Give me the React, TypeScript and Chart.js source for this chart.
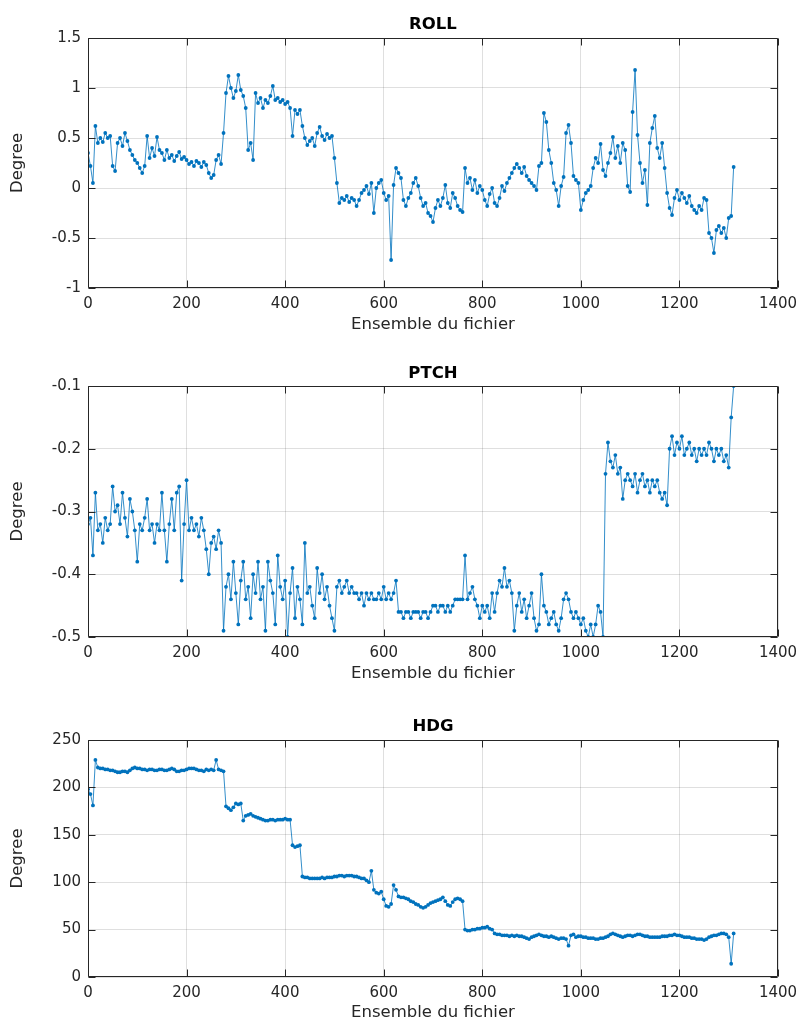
import React, { useEffect, useRef } from "react";
import { Chart, registerables } from "chart.js";

Chart.register(...registerables);

// Sample spacing along "Ensemble du fichier" (one value every 5 ensembles)
const STEP = 5;

// ROLL (degrees), samples at 0,5,10,...,1310
const ROLL = [
  0.35, 0.22, 0.05, 0.62, 0.45, 0.5, 0.46, 0.55, 0.5, 0.52,
  0.22, 0.17, 0.45, 0.5, 0.42, 0.55, 0.47, 0.38, 0.33, 0.28,
  0.25, 0.2, 0.15, 0.22, 0.52, 0.3, 0.4, 0.32, 0.51, 0.38,
  0.35, 0.28, 0.38, 0.3, 0.33, 0.27, 0.32, 0.36, 0.29, 0.31,
  0.28, 0.24, 0.26, 0.22, 0.27, 0.25, 0.21, 0.26, 0.23, 0.15,
  0.1, 0.13, 0.28, 0.33, 0.24, 0.55, 0.95, 1.12, 1.0, 0.9,
  0.97, 1.13, 0.98, 0.92, 0.8, 0.38, 0.45, 0.28, 0.95, 0.85,
  0.9, 0.8, 0.88, 0.85, 0.92, 1.02, 0.88, 0.9, 0.86, 0.88,
  0.84, 0.86, 0.8, 0.52, 0.78, 0.74, 0.78, 0.62, 0.5, 0.43,
  0.47, 0.5, 0.42, 0.55, 0.61, 0.52, 0.48, 0.54, 0.5, 0.52,
  0.3, 0.05, -0.15, -0.1, -0.12, -0.08, -0.14, -0.1, -0.12, -0.18,
  -0.12, -0.05, -0.02, 0.02, -0.06, 0.05, -0.25, 0.0, 0.05, 0.08,
  -0.05, -0.12, -0.08, -0.72, 0.03, 0.2, 0.15, 0.1, -0.12, -0.18,
  -0.1, -0.05, 0.05, 0.1, 0.02, -0.1, -0.18, -0.15, -0.25, -0.28,
  -0.34, -0.2, -0.12, -0.18, -0.1, 0.03, -0.15, -0.2, -0.05, -0.1,
  -0.18, -0.22, -0.24, 0.2, 0.05, 0.1, -0.02, 0.08, -0.05, 0.02,
  -0.02, -0.12, -0.18, -0.06, 0.0, -0.15, -0.18, -0.1, 0.02, -0.03,
  0.05, 0.1, 0.15, 0.2, 0.24, 0.2, 0.15, 0.21, 0.12, 0.08,
  0.05, 0.02, -0.02, 0.22, 0.25, 0.75, 0.66, 0.38, 0.25, 0.05,
  -0.02, -0.18, 0.02, 0.11, 0.55, 0.63, 0.45, 0.12, 0.08, 0.05,
  -0.22, -0.12, -0.05, -0.02, 0.02, 0.2, 0.3, 0.25, 0.44, 0.18,
  0.12, 0.25, 0.35, 0.51, 0.3, 0.42, 0.25, 0.45, 0.38, 0.02,
  -0.04, 0.76, 1.18, 0.53, 0.25, 0.05, 0.18, -0.17, 0.45, 0.6,
  0.72, 0.4, 0.3, 0.45, 0.2, -0.05, -0.2, -0.27, -0.1, -0.02,
  -0.12, -0.05, -0.1, -0.15, -0.08, -0.18, -0.22, -0.25, -0.18, -0.22,
  -0.1, -0.12, -0.45, -0.5, -0.65, -0.42, -0.38, -0.45, -0.4, -0.5,
  -0.3, -0.28, 0.21,
];

// PTCH (degrees)
const PTCH = [
  -0.32, -0.31, -0.37, -0.27, -0.33, -0.32, -0.35, -0.31, -0.33, -0.32,
  -0.26, -0.3, -0.29, -0.32, -0.27, -0.31, -0.34, -0.28, -0.3, -0.33,
  -0.38, -0.32, -0.33, -0.31, -0.28, -0.33, -0.32, -0.35, -0.32, -0.33,
  -0.27, -0.33, -0.38, -0.32, -0.28, -0.33, -0.27, -0.26, -0.41, -0.32,
  -0.25, -0.33, -0.31, -0.33, -0.32, -0.34, -0.31, -0.33, -0.36, -0.4,
  -0.35, -0.34, -0.36, -0.33, -0.35, -0.49, -0.42, -0.4, -0.44, -0.38,
  -0.43, -0.48, -0.41, -0.38, -0.44, -0.42, -0.47, -0.4, -0.43, -0.38,
  -0.44, -0.42, -0.49, -0.38, -0.41, -0.43, -0.48, -0.37, -0.42, -0.44,
  -0.41, -0.5, -0.43, -0.39, -0.47, -0.42, -0.44, -0.48, -0.35, -0.43,
  -0.42, -0.45, -0.47, -0.39, -0.43, -0.4, -0.44, -0.42, -0.45, -0.47,
  -0.49, -0.42, -0.41, -0.43, -0.42, -0.41, -0.43, -0.42, -0.43, -0.43,
  -0.44, -0.43, -0.45, -0.43, -0.44, -0.43, -0.44, -0.44, -0.43, -0.44,
  -0.42, -0.44, -0.43, -0.44, -0.43, -0.41, -0.46, -0.46, -0.47, -0.46,
  -0.46, -0.47, -0.46, -0.46, -0.46, -0.47, -0.46, -0.46, -0.47, -0.46,
  -0.45, -0.45, -0.46, -0.45, -0.45, -0.46, -0.45, -0.46, -0.45, -0.44,
  -0.44, -0.44, -0.44, -0.37, -0.44, -0.43, -0.42, -0.44, -0.45, -0.47,
  -0.45, -0.46, -0.45, -0.47, -0.43, -0.46, -0.43, -0.41, -0.42, -0.39,
  -0.42, -0.41, -0.43, -0.49, -0.45, -0.43, -0.46, -0.44, -0.47, -0.45,
  -0.43, -0.47, -0.49, -0.48, -0.4, -0.45, -0.46, -0.48, -0.47, -0.46,
  -0.48, -0.49, -0.47, -0.44, -0.43, -0.44, -0.46, -0.47, -0.46, -0.47,
  -0.48, -0.47, -0.49, -0.5, -0.48, -0.5, -0.48, -0.45, -0.46, -0.5,
  -0.24, -0.19, -0.22, -0.23, -0.21, -0.24, -0.23, -0.28, -0.25, -0.24,
  -0.25, -0.26, -0.24, -0.27, -0.25, -0.24, -0.26, -0.25, -0.27, -0.25,
  -0.26, -0.25, -0.27, -0.28, -0.27, -0.29, -0.2, -0.18, -0.21, -0.19,
  -0.2, -0.18, -0.21, -0.2, -0.19, -0.21, -0.2, -0.22, -0.2, -0.21,
  -0.2, -0.21, -0.19, -0.2, -0.22, -0.2, -0.21, -0.2, -0.22, -0.21,
  -0.23, -0.15, -0.1,
];

// HDG (degrees)
const HDG = [
  198, 193, 181, 229, 221, 220, 220, 219, 219, 218,
  218, 217, 216, 216, 217, 217, 216, 218, 220, 221,
  220, 220, 219, 219, 218, 219, 219, 218, 218, 219,
  219, 218, 218, 219, 220, 219, 217, 217, 218, 218,
  219, 220, 220, 220, 219, 218, 218, 217, 219, 218,
  219, 218, 229, 219, 218, 217, 180, 178, 176, 179,
  183, 182, 183, 165, 170, 171, 172, 170, 169, 168,
  167, 166, 165, 165, 166, 166, 165, 166, 166, 166,
  167, 166, 166, 139, 137, 138, 139, 106, 105, 105,
  104, 104, 104, 104, 104, 105, 104, 105, 105, 105,
  106, 106, 107, 107, 106, 107, 107, 107, 106, 106,
  105, 104, 104, 102, 100, 112, 92, 89, 88, 90,
  82, 75, 74, 77, 97, 92, 85, 84, 84, 83,
  82, 80, 79, 77, 76, 74, 73, 74, 76, 78,
  79, 80, 81, 82, 84, 80, 76, 75, 79, 82,
  83, 82, 80, 50, 49, 49, 50, 50, 51, 51,
  52, 52, 53, 51, 50, 46, 45, 45, 44, 44,
  44, 43, 44, 43, 44, 43, 43, 42, 41, 40,
  42, 43, 44, 45, 44, 43, 43, 42, 43, 42,
  41, 40, 41, 41, 40, 33, 44, 45, 42, 43,
  43, 42, 42, 41, 41, 41, 40, 40, 41, 41,
  42, 43, 45, 46, 45, 44, 43, 42, 43, 44,
  44, 43, 44, 45, 45, 44, 43, 43, 42, 42,
  42, 42, 42, 43, 43, 43, 44, 44, 45, 44,
  44, 43, 42, 42, 42, 41, 41, 40, 40, 40,
  39, 40, 42, 43, 44, 44, 45, 46, 46, 45,
  42, 14, 46,
];

const X_TICKS = [0, 200, 400, 600, 800, 1000, 1200, 1400];
const ROLL_TICKS = [-1, -0.5, 0, 0.5, 1, 1.5];
const PTCH_TICKS = [-0.5, -0.4, -0.3, -0.2, -0.1];
const HDG_TICKS = [0, 50, 100, 150, 200, 250];

const X_LABEL = "Ensemble du fichier";
const Y_LABEL = "Degree";

const FONT = "DejaVu Sans";
const INK = "#262626";
const BLUE = "#0072BD";

type PanelSpec = {
  title: string;
  values: number[];
  yTicks: number[];
  top: number;
  height: number;
  titlePadTop: number;
  titlePadBottom: number;
  xScaleHeight: number;
  xTitlePadBottom: number;
};

const PANELS: PanelSpec[] = [
  { title: "ROLL", values: ROLL, yTicks: ROLL_TICKS, top: 0, height: 345, titlePadTop: 15, titlePadBottom: 3.2, xScaleHeight: 57, xTitlePadBottom: 10.1 },
  { title: "PTCH", values: PTCH, yTicks: PTCH_TICKS, top: 345, height: 350, titlePadTop: 19.1, titlePadBottom: 2.1, xScaleHeight: 58, xTitlePadBottom: 11.1 },
  { title: "HDG", values: HDG, yTicks: HDG_TICKS, top: 695, height: 329, titlePadTop: 22.1, titlePadBottom: 3.1, xScaleHeight: 47, xTitlePadBottom: 1.1 },
];

const fmt = (v: number) => String(Number(Number(v).toFixed(4)));

const boxPlugin = {
  id: "matlabBox",
  afterDatasetsDraw(chart: any) {
    const { ctx, chartArea: a, scales } = chart;
    const xs = scales.x;
    const ys = scales.y;
    const L = Math.round(a.left) + 0.5;
    const R = Math.round(a.right) - 0.5;
    const T = Math.round(a.top) + 0.5;
    const B = Math.round(a.bottom) - 0.5;
    const TL = 7;
    ctx.save();
    ctx.strokeStyle = INK;
    ctx.lineWidth = 1;
    ctx.beginPath();
    ctx.rect(L, T, R - L, B - T);
    for (const t of xs.ticks) {
      const px = Math.round(xs.getPixelForValue(t.value)) + 0.5;
      ctx.moveTo(px, B);
      ctx.lineTo(px, B - TL);
      ctx.moveTo(px, T);
      ctx.lineTo(px, T + TL);
    }
    for (const t of ys.ticks) {
      const py = Math.round(ys.getPixelForValue(t.value)) + 0.5;
      ctx.moveTo(L, py);
      ctx.lineTo(L + TL, py);
      ctx.moveTo(R, py);
      ctx.lineTo(R - TL, py);
    }
    ctx.stroke();
    ctx.restore();
  },
};

function Panel({ spec }: { spec: PanelSpec }) {
  const ref = useRef<HTMLCanvasElement>(null);
  useEffect(() => {
    const canvas = ref.current;
    if (!canvas) return;
    const points = spec.values.map((v, i) => ({ x: i * STEP, y: v }));
    const yMin = spec.yTicks[0];
    const yMax = spec.yTicks[spec.yTicks.length - 1];
    const chart = new Chart(canvas, {
      type: "line",
      data: {
        datasets: [
          {
            data: points,
            borderColor: "rgba(0,114,189,0.8)",
            borderWidth: 1,
            pointRadius: 1.9,
            pointBackgroundColor: BLUE,
            pointBorderWidth: 0,
            pointHoverRadius: 0,
            tension: 0,
          },
        ],
      },
      options: {
        responsive: false,
        animation: false,
        devicePixelRatio: 1,
        events: [],
        layout: { padding: { left: 0, right: 20, top: 0, bottom: 0 } },
        plugins: {
          legend: { display: false },
          tooltip: { enabled: false },
          title: {
            display: true,
            text: spec.title,
            color: "#000",
            fullSize: false,
            font: { family: FONT, size: 16.5, weight: "bold", lineHeight: 1.2 },
            padding: { top: spec.titlePadTop, bottom: spec.titlePadBottom },
          },
        },
        scales: {
          x: {
            type: "linear",
            min: 0,
            max: 1400,
            afterBuildTicks: (s: any) => {
              s.ticks = X_TICKS.map((v) => ({ value: v }));
            },
            afterFit: (s: any) => {
              s.height = spec.xScaleHeight;
              s.paddingLeft = 0;
              s.paddingRight = 0;
            },
            ticks: {
              color: INK,
              font: { family: FONT, size: 15 },
              padding: 7,
              maxRotation: 0,
              autoSkip: false,
              callback: (v: any) => fmt(v),
            },
            grid: { color: "rgba(38,38,38,0.15)", lineWidth: 1, drawTicks: false },
            border: { display: false },
            title: {
              display: true,
              text: X_LABEL,
              color: INK,
              font: { family: FONT, size: 16.5, lineHeight: 1.2 },
              padding: { top: 0, bottom: spec.xTitlePadBottom },
            },
          },
          y: {
            type: "linear",
            min: yMin,
            max: yMax,
            afterBuildTicks: (s: any) => {
              s.ticks = spec.yTicks.map((v) => ({ value: v }));
            },
            afterFit: (s: any) => {
              s.width = 88;
              s.paddingTop = 0;
              s.paddingBottom = 0;
            },
            ticks: {
              color: INK,
              font: { family: FONT, size: 15 },
              padding: 7,
              autoSkip: false,
              callback: (v: any) => fmt(v),
            },
            grid: { color: "rgba(38,38,38,0.15)", lineWidth: 1, drawTicks: false },
            border: { display: false },
            title: {
              display: true,
              text: Y_LABEL,
              color: INK,
              font: { family: FONT, size: 16.5, lineHeight: 1.2 },
              padding: { top: 8, bottom: 0 },
            },
          },
        },
      },
      plugins: [boxPlugin],
    } as any);
    return () => chart.destroy();
  }, [spec]);
  return (
    <canvas
      ref={ref}
      width={798}
      height={spec.height}
      style={{ position: "absolute", left: 0, top: spec.top, width: 798, height: spec.height, display: "block" }}
    />
  );
}

export default function App() {
  return (
    <div style={{ position: "absolute", left: 0, top: 0, width: 798, height: 1024, background: "#ffffff", overflow: "hidden" }}>
      {PANELS.map((p) => (
        <Panel key={p.title} spec={p} />
      ))}
    </div>
  );
}
